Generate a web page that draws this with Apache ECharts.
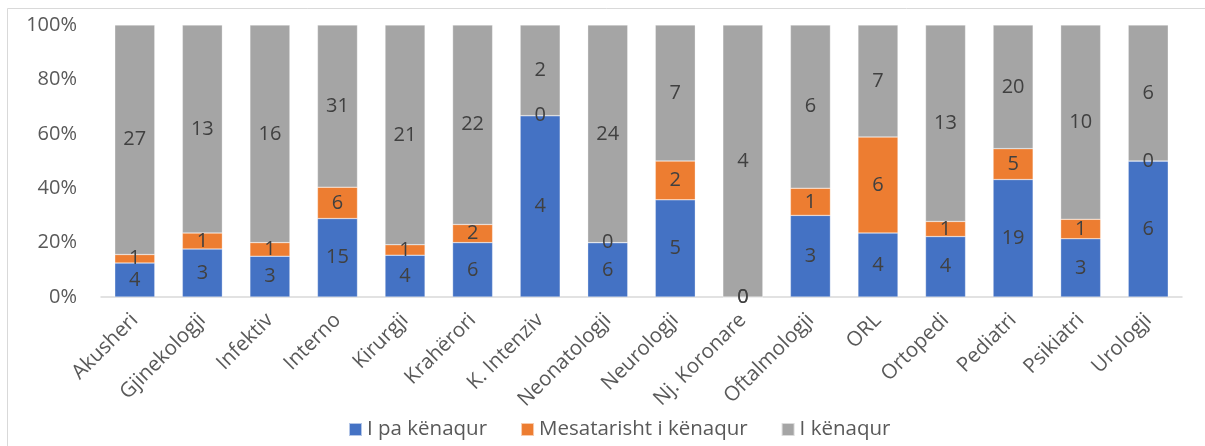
<!DOCTYPE html>
<html>
<head>
<meta charset="utf-8">
<script src="https://cdn.jsdelivr.net/npm/echarts@6/dist/echarts.min.js"></script>
<style>
  html, body { margin: 0; padding: 0; background: #fff; }
  #chart { width: 1205px; height: 446px; }
</style>
</head>
<body>
<div id="chart"></div>
<script>
// Departments (repart) shown on the category axis
const categories = ['Akusheri', 'Gjinekologji', 'Infektiv', 'Interno', 'Kirurgji', 'Krahërori',
  'K. Intenziv', 'Neonatologji', 'Neurologji', 'Nj. Koronare', 'Oftalmologji', 'ORL',
  'Ortopedi', 'Pediatri', 'Psikiatri', 'Urologji'];

// Number of respondents per satisfaction level
const paKenaqur = [4, 3, 3, 15, 4, 6, 4, 6, 5, 0, 3, 4, 4, 19, 3, 6];
const mesatarisht = [1, 1, 1, 6, 1, 2, 0, 0, 2, 0, 1, 6, 1, 5, 1, 0];
const kenaqur = [27, 13, 16, 31, 21, 22, 2, 24, 7, 4, 6, 7, 13, 20, 10, 6];

const seriesNames = ['I pa kënaqur', 'Mesatarisht i kënaqur', 'I kënaqur'];
const seriesColors = ['#4472c4', '#ed7d31', '#a5a5a5'];
const yTicks = [0, 20, 40, 60, 80, 100];

const FONT = '"Open Sans", Lato, sans-serif';

// Totals per department, used to turn counts into shares of 100%
const totals = categories.map((_, i) => paKenaqur[i] + mesatarisht[i] + kenaqur[i]);

function makeSeries(name, counts, color) {
  return {
    name: name,
    type: 'bar',
    stack: 'total',
    barWidth: 40,
    itemStyle: { color: color, borderColor: 'rgba(255,255,255,0.6)', borderWidth: 0.5 },
    label: {
      show: true,
      position: 'inside',
      color: '#404040',
      fontFamily: FONT,
      fontSize: 20,
      formatter: p => String(counts[p.dataIndex])
    },
    data: counts.map((c, i) => totals[i] ? c / totals[i] * 100 : 0)
  };
}

const chart = echarts.init(document.getElementById('chart'), null, { renderer: 'canvas' });
chart.setOption({
  animation: false,
  backgroundColor: '#fff',
  graphic: [{
    type: 'rect',
    shape: { x: 7.5, y: 8.5, width: 1300, height: 500 },
    style: { fill: 'none', stroke: '#d9d9d9', lineWidth: 1 },
    silent: true
  }],
  grid: { left: 101, right: 23, top: 25, bottom: 149 },
  legend: {
    bottom: 1,
    left: 343,
    itemWidth: 13,
    itemHeight: 13,
    itemGap: 33,
    icon: 'rect',
    textStyle: { color: '#595959', fontFamily: FONT, fontSize: 20.5 },
    data: seriesNames
  },
  xAxis: {
    type: 'category',
    data: categories,
    axisLine: { lineStyle: { color: '#d9d9d9', width: 1.5 } },
    axisTick: { show: false },
    axisLabel: {
      rotate: 45,
      interval: 0,
      color: '#595959',
      fontFamily: FONT,
      fontSize: 20.5,
      margin: 20
    }
  },
  yAxis: {
    type: 'value',
    min: yTicks[0],
    max: yTicks[yTicks.length - 1],
    interval: yTicks[1] - yTicks[0],
    splitLine: { show: false },
    axisLine: { show: false },
    axisTick: { show: false },
    axisLabel: {
      color: '#595959',
      fontFamily: FONT,
      fontSize: 20,
      margin: 24,
      formatter: v => v + '%'
    }
  },
  series: [
    makeSeries(seriesNames[0], paKenaqur, seriesColors[0]),
    makeSeries(seriesNames[1], mesatarisht, seriesColors[1]),
    makeSeries(seriesNames[2], kenaqur, seriesColors[2])
  ]
});
</script>
</body>
</html>
